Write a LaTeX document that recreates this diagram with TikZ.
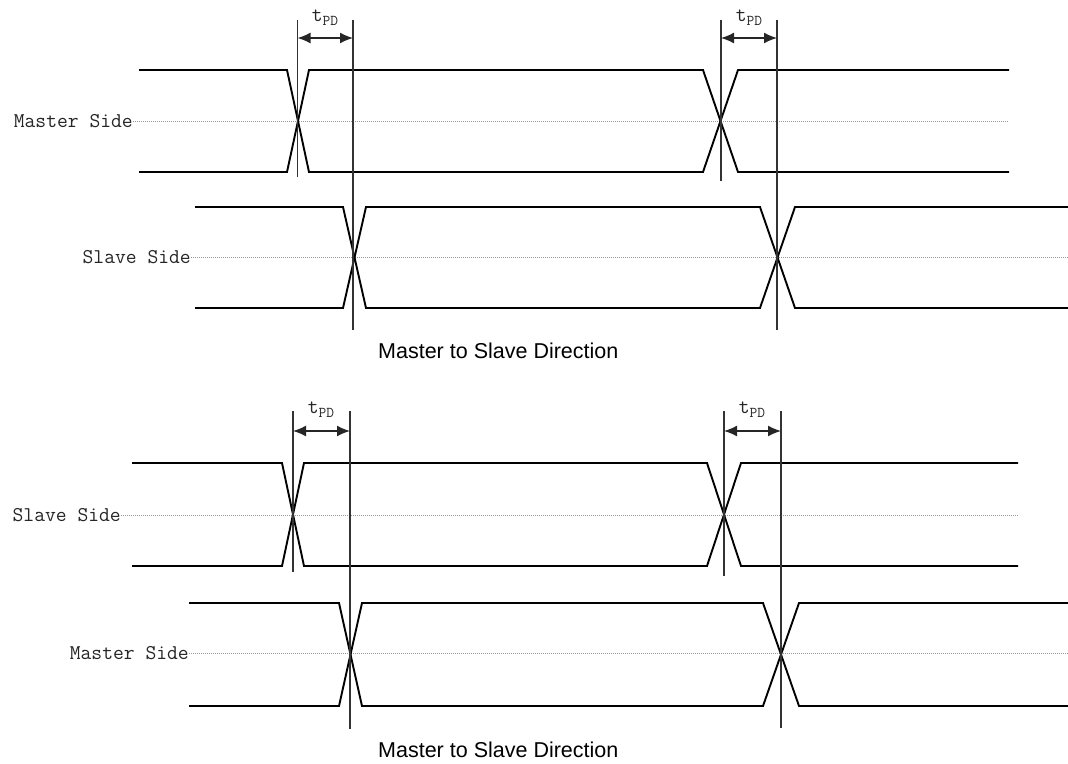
\documentclass[tikz,border=0pt]{standalone}
\usepackage{fontspec}
\setmainfont{Liberation Sans}
\usetikzlibrary{arrows.meta}
\tikzset{
  sig/.style={line width=1.9pt, black, line join=miter},
  mid/.style={line width=1pt, gray!80, dash pattern=on 1pt off 1pt},
  vline/.style={line width=1.2pt, black!80},
  dim/.style={line width=1.5pt, black!85, {Latex[length=13pt,width=11pt]}-{Latex[length=13pt,width=11pt]}},
  side/.style={font=\ttfamily\fontsize{21}{21}\selectfont, inner sep=0pt, text=black!85},
  tpd/.style={font=\ttfamily\fontsize{21}{21}\selectfont, inner sep=0pt, text=black!85},
  title/.style={font=\fontsize{21.5}{22}\selectfont, inner sep=0pt, anchor=base west}
}
\newcommand\sigtrace[8]{%
  % #1 start x, #2 end x, #3 hi y, #4 lo y, #5 t1 left, #6 t1 right, #7 t2 left, #8 t2 right
  \draw[sig] (#1,#3) -- (#5,#3) -- (#6,#4) -- (#7,#4) -- (#8,#3) -- (#2,#3);
  \draw[sig] (#1,#4) -- (#5,#4) -- (#6,#3) -- (#7,#3) -- (#8,#4) -- (#2,#4);
}
\newcommand\tpdtext{t{\fontsize{15}{15}\selectfont\raisebox{-4pt}{PD}}}
\begin{document}
\begin{tikzpicture}[x=1pt,y=-1pt]
\useasboundingbox (0,0) rectangle (1068,763);
\fill[white] (0,0) rectangle (1068,763);

% ---------- upper diagram ----------
\node[side, anchor=east] (m1) at (133,121) {Master Side};
\coordinate (m1e) at (1009,121);
\draw[mid] (m1.east) -- (m1e);
\sigtrace{139}{1009}{70}{172}{287}{309}{703}{738}

\node[side, anchor=east] (s1) at (191,257) {Slave Side};
\coordinate (s1e) at (1068,257);
\draw[mid] (s1.east) -- (s1e);
\sigtrace{195}{1068}{207}{308}{343}{366}{760}{795}

\coordinate (a1t) at (297.5,20); \coordinate (a1b) at (297.5,177);
\coordinate (b1t) at (353,20);   \coordinate (b1b) at (353,330);
\coordinate (a2t) at (721,20);   \coordinate (a2b) at (721,181);
\coordinate (b2t) at (777,20);   \coordinate (b2b) at (777,330);
\draw[vline] (a1t) -- (a1b);
\draw[vline] (b1t) -- (b1b);
\draw[vline] (a2t) -- (a2b);
\draw[vline] (b2t) -- (b2b);
\coordinate (d1l) at (297.5,38); \coordinate (d1r) at (353,38);
\coordinate (d2l) at (721,38);   \coordinate (d2r) at (777,38);
\draw[dim] (d1l) -- (d1r);
\draw[dim] (d2l) -- (d2r);
\node[tpd] (tp1) at (325,18) {\tpdtext};
\node[tpd] (tp2) at (749,18) {\tpdtext};

\node[title] (dir1) at (378,358) {Master to Slave Direction};

% ---------- lower diagram ----------
\node[side, anchor=east] (s2) at (121,515) {Slave Side};
\coordinate (s2e) at (1018,515);
\draw[mid] (s2.east) -- (s2e);
\sigtrace{132}{1018}{463}{566}{282}{304}{707}{741}

\node[side, anchor=east] (m2) at (189,653) {Master Side};
\coordinate (m2e) at (1068,653);
\draw[mid] (m2.east) -- (m2e);
\sigtrace{189}{1068}{603}{706}{339}{362}{763}{799}

\coordinate (a3t) at (293,411); \coordinate (a3b) at (293,572);
\coordinate (b3t) at (350,411); \coordinate (b3b) at (350,729);
\coordinate (a4t) at (724,411); \coordinate (a4b) at (724,576);
\coordinate (b4t) at (781,411); \coordinate (b4b) at (781,728);
\draw[vline] (a3t) -- (a3b);
\draw[vline] (b3t) -- (b3b);
\draw[vline] (a4t) -- (a4b);
\draw[vline] (b4t) -- (b4b);
\coordinate (d3l) at (293,431); \coordinate (d3r) at (350,431);
\coordinate (d4l) at (724,431); \coordinate (d4r) at (781,431);
\draw[dim] (d3l) -- (d3r);
\draw[dim] (d4l) -- (d4r);
\node[tpd] (tp3) at (321,410) {\tpdtext};
\node[tpd] (tp4) at (752,410) {\tpdtext};

\node[title] (dir2) at (378,757) {Master to Slave Direction};
\end{tikzpicture}
\end{document}
